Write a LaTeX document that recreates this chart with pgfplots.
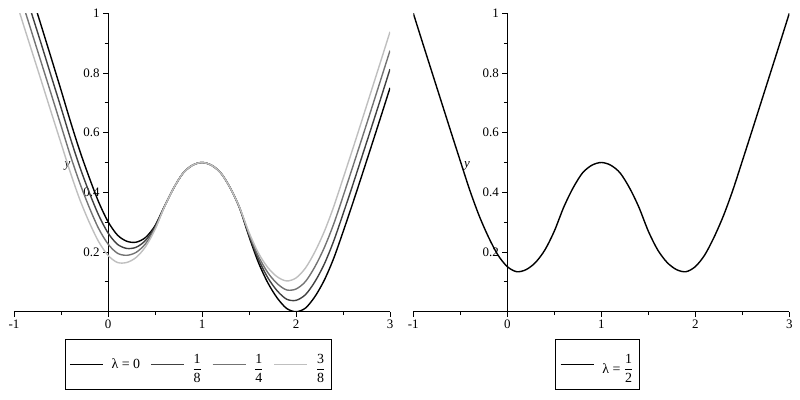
\documentclass[border=0pt]{standalone}
\usepackage{fontspec}
\setmainfont{Liberation Serif}
\usepackage{pgfplots}
\pgfplotsset{compat=1.18}
\usepackage{pgfplotstable}

\pgfplotstableread{
x f0 f1 f2 f3 f4
-1.0 1.250 1.188 1.125 1.063 1.000
-0.9 1.149 1.087 1.025 0.962 0.900
-0.8 1.049 0.987 0.925 0.863 0.801
-0.7 0.948 0.887 0.825 0.764 0.702
-0.6 0.846 0.785 0.725 0.664 0.603
-0.5 0.743 0.684 0.624 0.565 0.505
-0.4 0.638 0.581 0.523 0.466 0.408
-0.3 0.539 0.485 0.431 0.376 0.322
-0.2 0.450 0.400 0.350 0.300 0.250
-0.1 0.368 0.324 0.279 0.235 0.190
0.0 0.302 0.264 0.227 0.189 0.151
0.1 0.257 0.226 0.196 0.165 0.134
0.2 0.236 0.212 0.189 0.165 0.141
0.3 0.233 0.216 0.199 0.182 0.165
0.4 0.249 0.239 0.228 0.218 0.207
0.5 0.288 0.284 0.279 0.275 0.270
0.6 0.353 0.352 0.352 0.351 0.350
0.7 0.415 0.415 0.415 0.415 0.415
0.8 0.465 0.465 0.465 0.465 0.465
0.9 0.491 0.491 0.491 0.491 0.491
1.0 0.500 0.500 0.500 0.500 0.500
1.1 0.491 0.491 0.491 0.491 0.491
1.2 0.465 0.465 0.465 0.465 0.465
1.3 0.415 0.415 0.415 0.415 0.415
1.4 0.347 0.348 0.349 0.349 0.350
1.5 0.252 0.257 0.261 0.266 0.270
1.6 0.165 0.176 0.186 0.197 0.207
1.7 0.097 0.114 0.131 0.148 0.165
1.8 0.046 0.070 0.094 0.117 0.141
1.9 0.011 0.042 0.073 0.103 0.134
2.0 0.000 0.038 0.076 0.113 0.151
2.1 0.012 0.057 0.101 0.146 0.190
2.2 0.050 0.100 0.150 0.200 0.250
2.3 0.105 0.159 0.214 0.268 0.322
2.4 0.178 0.236 0.293 0.351 0.408
2.5 0.267 0.327 0.386 0.446 0.505
2.6 0.360 0.421 0.482 0.542 0.603
2.7 0.456 0.518 0.579 0.640 0.702
2.8 0.553 0.615 0.677 0.739 0.801
2.9 0.651 0.713 0.776 0.838 0.900
3.0 0.750 0.813 0.875 0.938 1.000
}\data

\pgfplotsset{
  mapleaxis/.style={
    x=94bp, y=298.4bp,
    xmin=-1, xmax=3, ymin=0, ymax=1,
    axis lines=middle,
    axis line style={-, line width=0.8bp},
    hide obscured x ticks=false,
    hide obscured y ticks=false,
    tick align=outside,
    major tick length=5bp, minor tick length=3.5bp,
    tick style={black, line width=0.8bp},
    xtick={-1,0,1,2,3}, xticklabels={-1,0,1,2,3},
    minor xtick={-0.5,0.5,1.5,2.5},
    ytick={0.2,0.4,0.6,0.8,1}, yticklabels={0.2,0.4,0.6,0.8,1},
    minor ytick={0.1,0.3,0.5,0.7,0.9},
    tick label style={font=\fontsize{13}{15}\selectfont},
    anchor=south west,
    legend image code/.code={\draw[#1] (0bp,0bp) -- (33bp,0bp);},
    legend style={at={(rel axis cs:0.49,0)}, anchor=north, yshift=-27bp,
      draw=black, line width=0.8bp, font=\fontsize{14}{16}\selectfont,
      inner xsep=4bp, inner ysep=13bp,
      /tikz/every even column/.append style={column sep=8bp},
      /tikz/every odd column/.append style={column sep=6bp}},
    every axis plot/.append style={line width=1.4bp, smooth},
  }
}

\begin{document}
\begin{tikzpicture}
\path[use as bounding box] (0,0) rectangle (800bp,400bp);

\begin{axis}[mapleaxis, at={(14bp,88.3bp)}, legend columns=4]
  \node[font=\fontsize{13}{15}\selectfont] at (axis cs:-0.43,0.49) {\textit{y}};
  \node[font=\fontsize{13}{15}\selectfont] at (axis cs:1.486,0) [yshift=-31.3bp] {\textit{x}};
  \addplot[black] table[x=x,y=f0] {\data};
  \addplot[black!75] table[x=x,y=f1] {\data};
  \addplot[black!55] table[x=x,y=f2] {\data};
  \addplot[black!25] table[x=x,y=f3] {\data};
  \legend{λ = 0, $\displaystyle\frac{\mbox{1}}{\mbox{8}}$, $\displaystyle\frac{\mbox{1}}{\mbox{4}}$, $\displaystyle\frac{\mbox{3}}{\mbox{8}}$}
\end{axis}

\begin{axis}[mapleaxis, at={(413.3bp,88.3bp)}]
  \node[font=\fontsize{13}{15}\selectfont] at (axis cs:-0.43,0.49) {\textit{y}};
  \node[font=\fontsize{13}{15}\selectfont] at (axis cs:1.486,0) [yshift=-31.3bp] {\textit{x}};
  \addplot[black] table[x=x,y=f4] {\data};
  \legend{λ = $\displaystyle\frac{\mbox{1}}{\mbox{2}}$}
\end{axis}
\end{tikzpicture}
\end{document}
